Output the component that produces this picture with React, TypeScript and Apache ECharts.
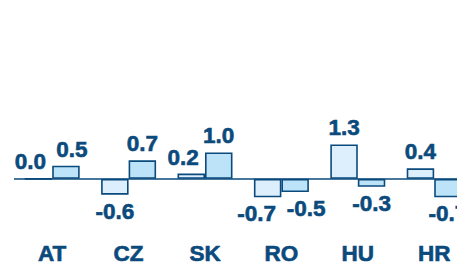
import React, { useEffect, useRef } from "react";
import * as echarts from "echarts";

const categories = ["AT", "CZ", "SK", "RO", "HU", "HR"];
const seriesA = [0.0, -0.6, 0.2, -0.7, 1.3, 0.4];
const seriesB = [0.5, 0.7, 1.0, -0.5, -0.3, -0.7];

// horizontal nudges of value labels (to avoid overlaps), per category
const nudgeA = [-8, 0, -8, -11, 0, 0];
const nudgeB = [6, 0, 0, 11, 0, 0];

const DARK = "#0b4a7c";
const FONT = "'Liberation Sans', Arial, sans-serif";

function makeData(values: number[], nudges: number[]) {
  return values.map((v, i) => ({
    value: v,
    label: {
      position: v < 0 ? "bottom" : "top",
      offset: [nudges[i], 0],
    },
  }));
}

export default function App() {
  const ref = useRef<HTMLDivElement>(null);
  useEffect(() => {
    if (!ref.current) return;
    const chart = echarts.init(ref.current, undefined, { renderer: "svg" });
    const label = {
      show: true,
      distance: 5,
      color: DARK,
      fontFamily: FONT,
      fontWeight: "bold" as const,
      fontSize: 22.5,
      textBorderColor: DARK,
      textBorderWidth: 0.6,
      formatter: (p: any) => Number(p.value).toFixed(1),
    };
    chart.setOption({
      animation: false,
      grid: { left: 14, top: 126, width: 458.4, bottom: 265 - 232.3 },
      xAxis: {
        type: "category",
        data: categories,
        axisLine: { show: false },
        axisTick: { show: false },
        axisLabel: {
          color: DARK,
          fontFamily: FONT,
          fontWeight: "bold",
          fontSize: 22.5,
          textBorderColor: DARK,
          textBorderWidth: 0.6,
          margin: 10,
        },
      },
      yAxis: {
        type: "value",
        min: -2,
        max: 2,
        show: false,
      },
      series: [
        {
          type: "bar",
          data: makeData(seriesA, nudgeA),
          barWidth: 27.5,
          barGap: "0%",
          itemStyle: { color: "#ddeffc", borderColor: DARK, borderWidth: 1.6 },
          label,
          markLine: {
            silent: true,
            symbol: "none",
            label: { show: false },
            lineStyle: { color: DARK, width: 1.6, type: "solid" },
            data: [{ yAxis: 0 }],
          },
        },
        {
          type: "bar",
          data: makeData(seriesB, nudgeB),
          barWidth: 27.5,
          barGap: "0%",
          itemStyle: { color: "#bde3f8", borderColor: DARK, borderWidth: 1.6 },
          label,
        },
      ],
    });
    return () => chart.dispose();
  }, []);
  return (
    <div
      style={{
        position: "fixed",
        left: 0,
        top: 0,
        width: 457,
        height: 265,
        overflow: "hidden",
        background: "#fff",
      }}
    >
      <div ref={ref} style={{ width: 480, height: 265 }} />
    </div>
  );
}
